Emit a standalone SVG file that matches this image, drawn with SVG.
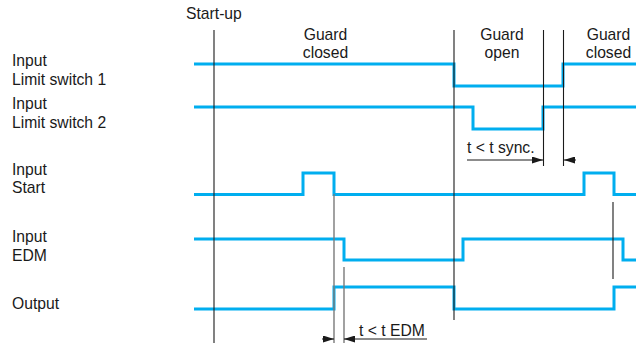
<svg xmlns="http://www.w3.org/2000/svg" width="636" height="343" viewBox="0 0 636 343">
  <style>
    text { font-family: "Liberation Sans", Arial, sans-serif; font-size: 15.7px; fill: #1a1a1a; }
    .mid { text-anchor: middle; }
    .sig { fill: none; stroke: #00aeef; stroke-width: 3; stroke-linejoin: miter; stroke-linecap: butt; }
    .guide { stroke: #1a1a1a; stroke-width: 1.1; fill: none; }
    .grey { stroke: #7a7a7a; stroke-width: 1.4; fill: none; }
    .dim { stroke: #1a1a1a; stroke-width: 1; fill: none; }
  </style>
  <defs>
    <marker id="arrow" viewBox="0 0 11 7" refX="11" refY="3.5" markerWidth="11" markerHeight="7" markerUnits="userSpaceOnUse" orient="auto">
      <path d="M0,0 L11,3.5 L0,7 Z" fill="#1a1a1a"/>
    </marker>
  </defs>

  <rect width="636" height="343" fill="#ffffff"/>

  <!-- phase headings -->
  <g id="headings">
    <text x="186" y="18.5">Start-up</text>
    <text class="mid" x="325.5" y="40">Guard</text>
    <text class="mid" x="325.5" y="58">closed</text>
    <text class="mid" x="502" y="40">Guard</text>
    <text class="mid" x="502" y="58">open</text>
    <text class="mid" x="608.5" y="40">Guard</text>
    <text class="mid" x="608.5" y="58">closed</text>
  </g>

  <!-- signal traces -->
  <g id="limit-switch-1">
    <text x="12" y="66">Input</text>
    <text x="12" y="85">Limit switch 1</text>
    <path class="sig" d="M194 64 H454 V86 H563 V64 H636"/>
  </g>
  <g id="limit-switch-2">
    <text x="12" y="108.5">Input</text>
    <text x="12" y="127.5">Limit switch 2</text>
    <path class="sig" d="M194 107 H473 V129 H543 V107 H636"/>
  </g>
  <g id="start">
    <text x="12" y="174.5">Input</text>
    <text x="12" y="193">Start</text>
    <path class="sig" d="M194 194.5 H303 V173 H334 V194.5 H584 V173 H614 V194.5 H636"/>
  </g>
  <g id="edm">
    <text x="12" y="241.5">Input</text>
    <text x="12" y="260.5">EDM</text>
    <path class="sig" d="M194 239 H344 V260 H463 V239 H623 V260 H636"/>
  </g>
  <g id="output">
    <text x="12" y="309">Output</text>
    <path class="sig" d="M194 309 H334 V287 H454 V309 H614 V287 H636"/>
  </g>

  <!-- time markers and intervals -->
  <g id="connectors">
    <line class="guide" x1="214" y1="30" x2="214" y2="343"/>
    <line class="guide" x1="454" y1="30" x2="454" y2="320"/>
    <line class="guide" x1="543.5" y1="30" x2="543.5" y2="166"/>
    <line class="guide" x1="563.5" y1="30" x2="563.5" y2="166"/>
    <line class="guide" x1="613" y1="202" x2="613" y2="279"/>
    <line class="grey" x1="334" y1="194" x2="334" y2="343"/>
    <line class="grey" x1="344" y1="267" x2="344" y2="343"/>

    <line class="dim" x1="467" y1="160" x2="543" y2="160" marker-end="url(#arrow)"/>
    <line class="dim" x1="576" y1="160" x2="564" y2="160" marker-end="url(#arrow)"/>
    <line class="dim" x1="322" y1="339" x2="334" y2="339" marker-end="url(#arrow)"/>
    <line class="dim" x1="427" y1="339" x2="344" y2="339" marker-end="url(#arrow)"/>
  </g>

  <g id="interval-labels">
    <text x="467" y="153">t &lt; t sync.</text>
    <text x="359" y="335.5">t &lt; t EDM</text>
  </g>
</svg>
